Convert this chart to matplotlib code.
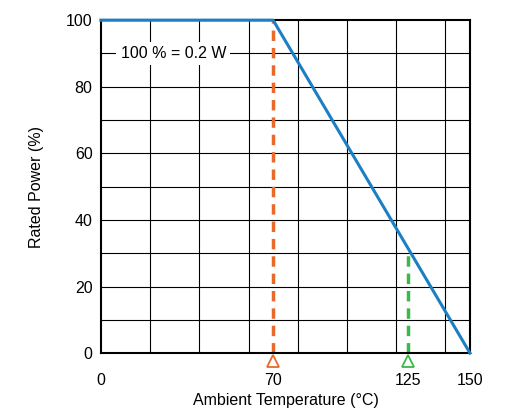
import matplotlib
matplotlib.use("Agg")
import matplotlib.pyplot as plt

curve_x = [0, 70, 150]
curve_y = [100, 100, 0]
knee_x = 70
limit_x = 125
limit_y = 31.25
xticks = [0, 70, 125, 150]
yticks = [0, 20, 40, 60, 80, 100]

plt.rcParams['font.family'] = ['Liberation Sans', 'DejaVu Sans']
fig = plt.figure(figsize=(5.07, 4.12), dpi=100)
ax = fig.add_axes([0.199, 0.143, 0.728, 0.808])
ax.set_xlim(0, 150); ax.set_ylim(0, 100)
for gx in range(20, 150, 20):
    ax.axvline(gx, color='black', lw=0.8, zorder=0)
for gy in range(10, 100, 10):
    ax.axhline(gy, color='black', lw=0.8, zorder=0)
ax.plot([knee_x, knee_x], [0, 100], color='#E8692A', lw=2.5, ls=(0, (3, 2)), zorder=2)
ax.plot([limit_x, limit_x], [0, limit_y], color='#3CB84A', lw=2.5, ls=(0, (3, 2)), zorder=2)
ax.plot(curve_x, curve_y, color='#1B7FC4', lw=2.2, zorder=3, clip_on=False)
ax.text(8, 90, '100 % = 0.2 W', fontsize=11.5, va='center', ha='left',
        bbox=dict(facecolor='white', edgecolor='none', pad=3), zorder=4)
ax.plot([knee_x], [-2.5], marker='^', mfc='white', mec='#E8692A', ms=9, mew=1.3, clip_on=False, zorder=5)
ax.plot([limit_x], [-2.5], marker='^', mfc='white', mec='#3CB84A', ms=9, mew=1.3, clip_on=False, zorder=5)
ax.set_xticks(xticks)
ax.set_yticks(yticks)
ax.tick_params(axis='x', length=0, pad=14, labelsize=11.5)
ax.tick_params(axis='y', length=0, pad=6, labelsize=11.5)
for s in ax.spines.values():
    s.set_linewidth(1.5)
ax.set_xlabel('Ambient Temperature (°C)', fontsize=11.5)
ax.set_ylabel('Rated Power (%)', fontsize=11.5, labelpad=16)
fig.savefig('out.png', dpi=100)
